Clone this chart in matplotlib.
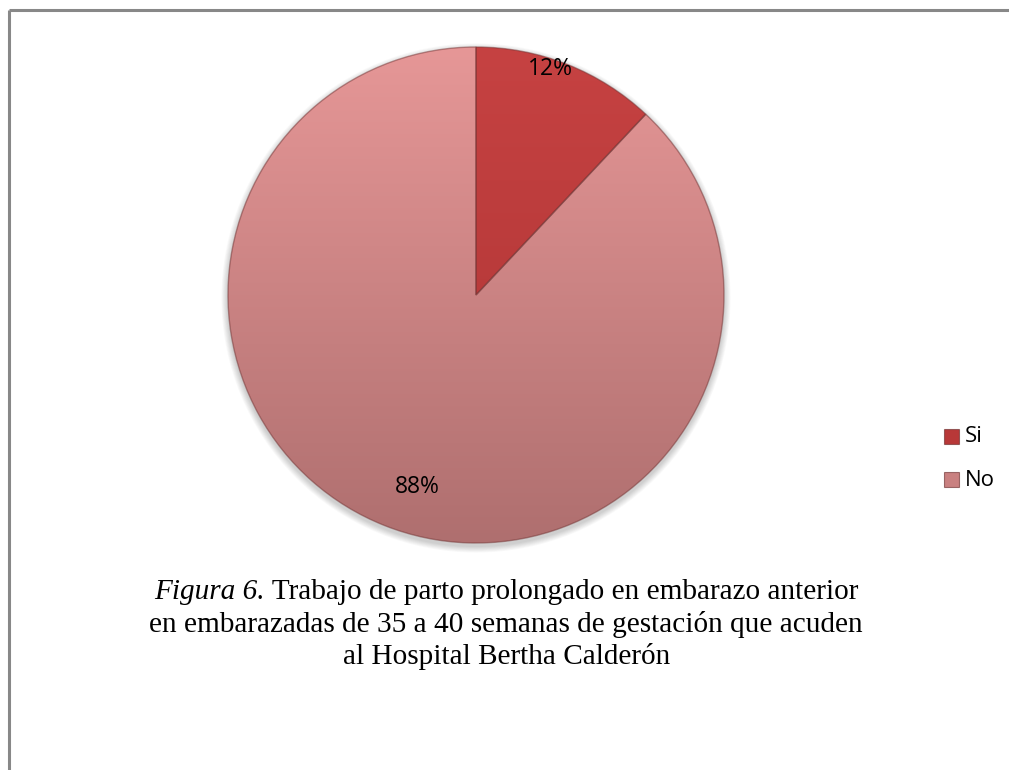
import numpy as np
import matplotlib
matplotlib.use("Agg")
import matplotlib.pyplot as plt
from matplotlib.patches import Rectangle
from matplotlib.colors import LinearSegmentedColormap

# chart data
labels = ["Si", "No"]
values = [12, 88]
pct_labels = ["12%", "88%"]

caption_italic = "Figura 6."
caption_line1 = " Trabajo de parto prolongado en embarazo anterior"
caption_line2 = "en embarazadas de 35 a 40 semanas de gestación que acuden"
caption_line3 = "al Hospital Bertha Calderón"

# top/bottom gradient colours for each slice
slice_top = ["#C64242", "#E69797"]
slice_bottom = ["#AC3333", "#AF6F6F"]
legend_colors = ["#B83838", "#C98080"]

W, H = 1009, 770
fig = plt.figure(figsize=(W / 100, H / 100), dpi=100)
ax = fig.add_axes([0, 0, 1, 1])

cx, cy, r = 476, H - 295, 248

# soft shadow under the pie
for k in range(8):
    sh = plt.Circle((cx, cy - 3), r + 1 + k * 0.8, color="black",
                    alpha=0.025, lw=0, zorder=0)
    ax.add_patch(sh)

wedges, _ = ax.pie(values, center=(cx, cy), radius=r, startangle=90,
                   counterclock=False, colors=legend_colors,
                   wedgeprops=dict(edgecolor=(0.45, 0.2, 0.2, 0.5), linewidth=1))

# vertical gradient inside each wedge
grad = np.linspace(0, 1, 256).reshape(-1, 1)
for w, top, bot in zip(wedges, slice_top, slice_bottom):
    cmap = LinearSegmentedColormap.from_list("g", [bot, top])
    im = ax.imshow(grad, cmap=cmap, origin="lower", aspect="auto",
                   extent=(cx - r, cx + r, cy - r, cy + r), zorder=1.5)
    im.set_clip_path(w)
    w.set_zorder(2)
    w.set_facecolor("none")

# percentage labels (Excel style placement)
label_pos = [(0.96, 3.4), (0.81, 4.6)]
for w, txt, (d, shift) in zip(wedges, pct_labels, label_pos):
    ang = np.deg2rad((w.theta1 + w.theta2) / 2 + shift)
    ax.text(cx + d * r * np.cos(ang), cy + d * r * np.sin(ang), txt,
            ha="center", va="center", fontsize=16.5, family="Open Sans",
            color="black", zorder=3)

# legend
for i, (lab, col) in enumerate(zip(labels, legend_colors)):
    ly = H - 437 - i * 43
    ax.add_patch(Rectangle((944, ly - 7), 15, 15, facecolor=col,
                           edgecolor=(0.4, 0.15, 0.15, 0.6), lw=0.8, zorder=3))
    ax.text(965, ly, lab, ha="left", va="center", fontsize=16,
            family="Open Sans", zorder=3)

# frame (top and left lines)
ax.plot([8.5, W], [H - 9.5, H - 9.5], color="#888888", lw=2.2, solid_capstyle="butt")
ax.plot([8.5, 8.5], [0, H - 9.5], color="#888888", lw=2.2, solid_capstyle="butt")

ax.set_xlim(0, W)
ax.set_ylim(0, H)
ax.set_aspect("auto")
ax.axis("off")

# caption
cap_fs = 21.1
fig.canvas.draw()
renderer = fig.canvas.get_renderer()
t1 = ax.text(0, H - 592, caption_italic, style="italic", family="Liberation Serif",
             fontsize=cap_fs, va="center", ha="left")
t2 = ax.text(0, H - 592, caption_line1, family="Liberation Serif",
             fontsize=cap_fs, va="center", ha="left")
w1 = t1.get_window_extent(renderer).width
w2 = t2.get_window_extent(renderer).width
x0 = 506 - (w1 + w2) / 2
t1.set_x(x0)
t2.set_x(x0 + w1)
ax.text(506, H - 624, caption_line2, family="Liberation Serif", fontsize=cap_fs,
        va="center", ha="center")
ax.text(507, H - 657, caption_line3, family="Liberation Serif", fontsize=cap_fs,
        va="center", ha="center")

fig.savefig("out.png", dpi=100)
